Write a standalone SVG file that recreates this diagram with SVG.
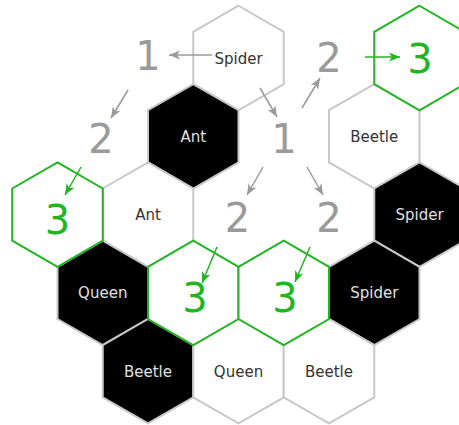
<svg xmlns="http://www.w3.org/2000/svg" xmlns:xlink="http://www.w3.org/1999/xlink" width="459" height="425" viewBox="0 0 459 425">
<style>
.w{fill:#fff;stroke:#c8c8c8;stroke-width:2}
.b{fill:#000;stroke:#c8c8c8;stroke-width:2}
.g{fill:#fff;stroke:#22b422;stroke-width:2}
.lw{font-family:"DejaVu Sans",Verdana,sans-serif;font-size:15px;fill:#333;text-anchor:middle}
.lb{font-family:"DejaVu Sans",Verdana,sans-serif;font-size:15px;fill:#e0e0e0;text-anchor:middle}
.n{font-family:"DejaVu Sans",Verdana,sans-serif;font-size:40px;fill:#9a9a9a;text-anchor:middle}
.ng{font-family:"DejaVu Sans",Verdana,sans-serif;font-size:40px;fill:#22b422;text-anchor:middle}
.ag{stroke:#9a9a9a;stroke-width:1.5;fill:none}
.aG{stroke:#22b422;stroke-width:1.5;fill:none}
</style>
<defs>
<polygon id="hex" points="0,-52.25 45.25,-26.125 45.25,26.125 0,52.25 -45.25,26.125 -45.25,-26.125"/>
<marker id="mg" markerWidth="12" markerHeight="10" refX="11" refY="4.5" orient="auto" markerUnits="userSpaceOnUse"><path d="M0,0 L11,4.5 L0,9 L3,4.5 z" fill="#9a9a9a"/></marker>
<marker id="mG" markerWidth="12" markerHeight="10" refX="11" refY="4.5" orient="auto" markerUnits="userSpaceOnUse"><path d="M0,0 L11,4.5 L0,9 L3,4.5 z" fill="#22b422"/></marker>
</defs>
<rect width="459" height="425" fill="#fff"/>
<g id="spider1"><use xlink:href="#hex" class="w" transform="translate(238.5,58)"/><text class="lw" x="238.5" y="63.5">Spider</text></g>
<g id="ant1"><use xlink:href="#hex" class="b" transform="translate(193.25,136.3)"/><text class="lb" x="193.25" y="141.8">Ant</text></g>
<g id="beetle1"><use xlink:href="#hex" class="w" transform="translate(374.25,136.3)"/><text class="lw" x="374.25" y="142">Beetle</text></g>
<g id="ant2"><use xlink:href="#hex" class="w" transform="translate(148,214.6)"/><text class="lw" x="148" y="220">Ant</text></g>
<g id="spider2"><use xlink:href="#hex" class="b" transform="translate(419.5,214.6)"/><text class="lb" x="419.5" y="220">Spider</text></g>
<g id="queen1"><use xlink:href="#hex" class="b" transform="translate(102.75,292.9)"/><text class="lb" x="102.75" y="298.3">Queen</text></g>
<g id="spider3"><use xlink:href="#hex" class="b" transform="translate(374.25,292.9)"/><text class="lb" x="374.25" y="298.3">Spider</text></g>
<g id="beetle2"><use xlink:href="#hex" class="b" transform="translate(148,371.2)"/><text class="lb" x="148" y="376.6">Beetle</text></g>
<g id="queen2"><use xlink:href="#hex" class="w" transform="translate(238.5,371.2)"/><text class="lw" x="238.5" y="376.6">Queen</text></g>
<g id="beetle3"><use xlink:href="#hex" class="w" transform="translate(329,371.2)"/><text class="lw" x="329" y="376.6">Beetle</text></g>
<g id="target1"><use xlink:href="#hex" class="g" transform="translate(419.5,58)"/><text class="ng" x="420" y="73">3</text></g>
<g id="target2"><use xlink:href="#hex" class="g" transform="translate(57.5,214.6)"/><text class="ng" x="57.5" y="234">3</text></g>
<g id="target3"><use xlink:href="#hex" class="g" transform="translate(193.25,292.9)"/><text class="ng" x="195" y="312">3</text></g>
<g id="target4"><use xlink:href="#hex" class="g" transform="translate(283.75,292.9)"/><text class="ng" x="285" y="312">3</text></g>
<g id="step1a"><text class="n" x="148" y="70">1</text></g>
<g id="step2a"><text class="n" x="101" y="153">2</text></g>
<g id="step1b"><text class="n" x="284" y="153">1</text></g>
<g id="step2b"><text class="n" x="329" y="72">2</text></g>
<g id="step2c"><text class="n" x="237.5" y="232">2</text></g>
<g id="step2d"><text class="n" x="329" y="232">2</text></g>
<g id="connectors">
<line class="ag" x1="212" y1="55" x2="169" y2="55" marker-end="url(#mg)"/>
<line class="ag" x1="128" y1="90" x2="111" y2="118" marker-end="url(#mg)"/>
<line class="ag" x1="260" y1="88" x2="277" y2="117" marker-end="url(#mg)"/>
<line class="ag" x1="302" y1="108" x2="320" y2="78" marker-end="url(#mg)"/>
<line class="ag" x1="263" y1="167" x2="247" y2="195" marker-end="url(#mg)"/>
<line class="ag" x1="307" y1="167" x2="323" y2="195" marker-end="url(#mg)"/>
<line class="aG" x1="81" y1="167" x2="65" y2="195" marker-end="url(#mG)"/>
<line class="aG" x1="365" y1="57" x2="400" y2="57" marker-end="url(#mG)"/>
<line class="aG" x1="217" y1="247" x2="202" y2="283" marker-end="url(#mG)"/>
<line class="aG" x1="310" y1="247" x2="295" y2="282" marker-end="url(#mG)"/>
</g>
</svg>
